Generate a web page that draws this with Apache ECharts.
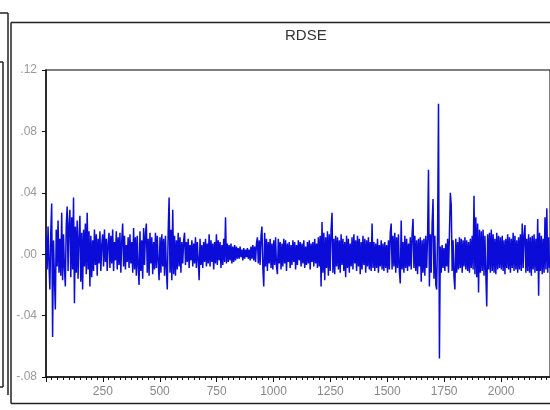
<!DOCTYPE html>
<html>
<head>
<meta charset="utf-8">
<script src="https://cdn.jsdelivr.net/npm/echarts@6/dist/echarts.min.js"></script>
<style>
html,body{margin:0;padding:0;background:#fff;}
#chart{width:550px;height:410px;}
</style>
</head>
<body>
<div id="chart"></div>
<script>
// Chart title
const chartTitle = 'RDSE';
// Observation numbering: one plotted value every obsStep observations, starting at obsStart
const obsStart = 1;
const obsStep = 4;
const rdse = [
  .012,-.010,.018,-.006,-.023,.014,.033,-.054,.009,-.015,
  -.036,.016,-.008,.022,-.012,.010,-.014,.027,-.017,.013,
  -.009,-.021,.019,.031,-.011,.020,.029,-.015,.024,-.010,
  .037,-.032,.018,-.012,.022,-.016,.011,.025,-.018,.014,
  -.023,.016,-.008,.020,-.013,.027,-.010,.015,-.021,.012,
  -.015,.009,-.011,.016,-.007,.013,-.014,.010,-.006,.015,
  -.011,.006,.013,-.008,.016,-.005,.010,-.011,.007,.014,
  -.009,.012,-.006,.016,-.011,.008,-.004,.015,-.010,.011,
  -.007,.014,-.012,.009,.020,-.008,.012,-.010,.006,-.005,
  .011,-.009,.013,-.006,.008,-.012,.017,-.010,.011,-.014,
  .012,-.008,-.020,.015,-.011,.009,-.016,.017,-.007,.013,
  .020,-.012,.010,-.014,.014,-.006,.011,-.013,.008,-.010,
  .014,-.009,.012,-.005,-.017,.011,-.012,.013,-.008,.010,
  -.014,.012,-.010,-.023,.015,.037,-.012,.016,-.017,.029,
  -.013,.012,-.014,.009,-.010,.014,-.008,.011,-.012,.008,
  -.006,.009,.014,-.007,.008,-.005,.010,-.009,.006,-.004,
  .009,-.008,.007,-.006,.011,-.009,.008,-.004,-.017,.010,
  -.007,.006,-.009,.008,-.005,.010,-.008,.007,-.006,.013,
  -.008,.009,-.005,.007,-.010,.008,-.006,.013,-.007,.009,
  -.004,.008,-.009,.006,-.007,.010,-.005,.024,-.006,.007,
  -.005,.006,-.004,.007,-.006,.005,-.005,.006,-.004,.005,
  -.003,.004,-.003,.005,-.002,.003,-.004,.004,-.003,.003,
  -.002,.004,-.003,.003,-.004,.005,-.003,.006,-.004,.005,
  -.005,.007,.011,-.006,.009,-.007,.012,.018,-.009,-.021,
  .014,-.008,.010,-.011,.008,-.006,.010,-.009,.007,-.010,
  .009,-.007,.011,-.008,-.013,.010,-.006,.008,-.010,.007,
  -.008,.010,-.006,.009,-.011,.007,-.005,.008,-.009,.006,
  -.007,.009,-.005,.008,-.010,.006,-.007,.009,-.004,.008,
  -.008,.007,-.006,.009,-.009,.005,-.007,.008,-.006,.009,
  -.010,.007,-.005,.008,-.008,.010,-.006,.007,-.009,.011,
  -.008,.012,-.021,.021,-.012,.014,-.017,.011,-.009,.015,
  -.014,.013,-.011,.016,.027,-.012,.010,-.013,.012,-.008,
  .011,-.010,.009,-.012,.013,-.007,.010,-.011,.008,-.015,
  .012,-.009,.010,-.012,.007,-.008,.011,-.010,.013,-.006,
  .009,-.011,.012,-.008,.010,-.013,.008,-.010,.012,-.007,
  .010,-.012,.009,-.008,.011,-.010,.008,-.011,.020,-.009,
  .008,-.011,.007,-.009,.010,-.012,.006,-.008,.009,-.010,
  .007,-.011,.008,-.009,.006,-.012,.009,-.010,.014,.020,
  -.010,.012,-.008,.014,-.012,.011,-.009,.013,-.011,-.019,
  .022,-.010,.008,-.012,.012,-.009,.010,-.011,.007,-.008,
  .011,-.010,.013,.023,-.009,.012,-.011,.009,-.013,.010,
  -.008,.011,-.018,.009,-.012,.010,-.014,.012,-.009,.011,
  .055,-.021,.013,-.012,.020,.036,-.016,.012,-.020,-.023,
  .014,.098,-.068,.005,-.012,.006,-.009,.004,-.011,.007,
  -.008,.010,-.012,.013,.040,.032,-.011,.009,-.015,-.023,
  .010,-.012,.008,-.010,.011,-.009,.010,-.012,.009,-.008,
  .011,-.010,.009,-.011,.008,-.012,.010,-.009,.012,-.010,
  .038,-.013,.024,-.015,.020,-.025,.016,-.012,.015,-.011,
  .016,-.014,.012,-.013,-.034,.013,-.010,.014,-.012,.016,
  -.011,.013,-.012,.010,-.013,.014,-.010,.012,-.009,.011,
  -.010,.012,-.011,.009,-.013,.010,-.009,.013,-.010,.011,
  -.012,.010,-.009,.014,-.011,.012,-.010,.009,-.012,.011,
  -.010,.013,-.011,.020,-.009,.012,.019,-.012,.010,-.011,
  .013,-.012,.011,-.014,.012,-.010,.013,-.012,.010,-.011,
  .023,-.027,.014,-.011,.012,-.013,.010,-.012,.024,-.010,
  .030,-.012,.011,-.009
];
// Axis settings (values)
const xMin = 0, xMax = 2215, xInterval = 250;
const yMin = -0.08, yMax = 0.12, yInterval = 0.04;

const seriesData = rdse.map((v, i) => [obsStart + i * obsStep, v]);

function yFmt(v) {
  if (Math.abs(v) < 1e-9) return '.00';
  const s = v.toFixed(2);
  return s.replace(/^(-?)0\./, '$1.');
}

const chart = echarts.init(document.getElementById('chart'), null, {renderer: 'canvas'});
const lineStyleFrame = {stroke: '#222', lineWidth: 1.5};
chart.setOption({
  animation: false,
  backgroundColor: '#fff',
  title: {
    text: chartTitle,
    left: 280,
    top: 23,
    textStyle: {fontFamily: 'Liberation Sans', fontSize: 15, fontWeight: 'normal', color: '#333'}
  },
  grid: {
    left: 46, top: 70, width: 506, height: 307,
    show: true, borderColor: '#555', borderWidth: 1.5, backgroundColor: 'transparent'
  },
  xAxis: {
    type: 'value', min: xMin, max: xMax, interval: xInterval,
    axisLine: {show: true, onZero: false, lineStyle: {color: '#111', width: 1.5}},
    axisTick: {show: true, inside: false, length: 5, lineStyle: {color: '#111'}},
    minorTick: {show: true, splitNumber: 10, length: 3, lineStyle: {color: '#111'}},
    splitLine: {show: false},
    axisLabel: {
      color: '#888', fontFamily: 'Liberation Sans', fontSize: 12, margin: 9,
      showMaxLabel: false,
      formatter: v => (v === 0 ? '' : String(v))
    }
  },
  yAxis: {
    type: 'value', min: yMin, max: yMax, interval: yInterval,
    axisLine: {show: true, lineStyle: {color: '#111', width: 1.5}},
    axisTick: {show: true, inside: false, length: 4, lineStyle: {color: '#111'}},
    splitLine: {show: false},
    axisLabel: {color: '#999', fontFamily: 'Liberation Sans', fontSize: 12, margin: 9, formatter: yFmt}
  },
  series: [{
    type: 'line',
    data: seriesData,
    showSymbol: false,
    symbol: 'none',
    lineStyle: {color: '#0c0cd8', width: 1.5},
    itemStyle: {color: '#0c0cd8'}
  }],
  graphic: [
    // neighbouring chart frame (left edge)
    {type: 'line', shape: {x1: 0, y1: 13, x2: 8, y2: 13}, style: lineStyleFrame, silent: true},
    {type: 'line', shape: {x1: 8, y1: 13, x2: 8, y2: 395}, style: lineStyleFrame, silent: true},
    {type: 'line', shape: {x1: 0, y1: 62, x2: 3, y2: 62}, style: lineStyleFrame, silent: true},
    {type: 'line', shape: {x1: 3, y1: 62, x2: 3, y2: 387}, style: lineStyleFrame, silent: true},
    {type: 'line', shape: {x1: 0, y1: 387, x2: 3, y2: 387}, style: lineStyleFrame, silent: true},
    // this chart's frame
    {type: 'line', shape: {x1: 11, y1: 22.5, x2: 552, y2: 22.5}, style: lineStyleFrame, silent: true},
    {type: 'line', shape: {x1: 11, y1: 22.5, x2: 11, y2: 403.5}, style: lineStyleFrame, silent: true},
    {type: 'line', shape: {x1: 11, y1: 403.5, x2: 552, y2: 403.5}, style: lineStyleFrame, silent: true}
  ]
});
</script>
</body>
</html>
